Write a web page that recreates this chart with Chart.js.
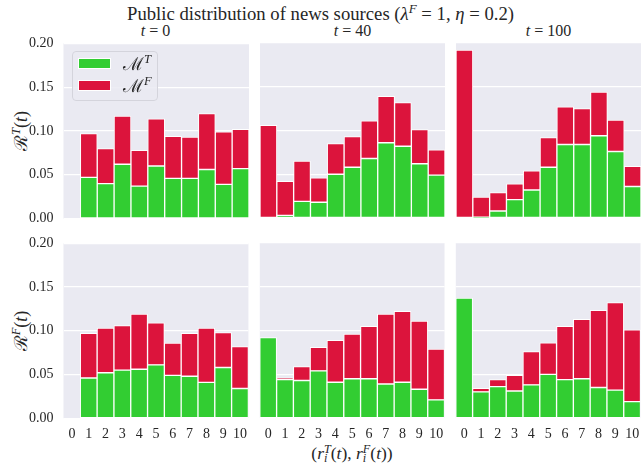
<!DOCTYPE html>
<html>
<head>
<meta charset="utf-8">
<script src="https://cdn.jsdelivr.net/npm/chart.js@4.4.1/dist/chart.umd.min.js"></script>
<style>
  html, body { margin: 0; padding: 0; background: #ffffff; }
  body { width: 641px; height: 463px; position: relative; overflow: hidden;
         font-family: "Liberation Serif", "DejaVu Serif", serif; color: #262626; }
  canvas { position: absolute; }
  .txt { position: absolute; white-space: nowrap; line-height: 1; }
  .title { font-size: 18.7px; left: 0; width: 641px; text-align: center; top: 5px; }
  .sub { font-size: 16px; text-align: center; width: 185px; top: 22.6px; }
  .ylab { font-size: 18px; transform: translate(-50%, -50%) rotate(-90deg); }
  .xlab { font-size: 17.5px; transform: translate(-50%, -50%); }
  sup { font-size: 0.7em; vertical-align: 0.55em; line-height: 0; }
  .ss { display: inline-block; vertical-align: -0.25em; line-height: 0.75; font-size: 0.7em; text-align: left; }
  .ss span { display: block; }
  .legend { position: absolute; left: 72px; top: 51px; width: 86px; height: 50px;
            background: rgba(234,234,242,0.85); border: 1px solid #d4d4dc; border-radius: 4px; box-sizing: border-box; }
  .sw { position: absolute; left: 5px; width: 33px; height: 11px; box-sizing: border-box; border: 1px solid #ffffff; }
  .lt { position: absolute; left: 50px; font-size: 18px; line-height: 1; }
</style>
</head>
<body>
<div class="txt title">Public distribution of news sources (<i>λ</i><sup><i>F</i></sup> = 1, <i>η</i> = 0.2)</div>
<div class="txt sub" style="left:63px"><i>t</i> = 0</div>
<div class="txt sub" style="left:260px"><i>t</i> = 40</div>
<div class="txt sub" style="left:456px"><i>t</i> = 100</div>
<div class="txt ylab" style="left:21px; top:131px">ℛ<sup><i>T</i></sup>(<i>t</i>)</div>
<div class="txt ylab" style="left:21px; top:331px">ℛ<sup><i>F</i></sup>(<i>t</i>)</div>
<div class="txt xlab" style="left:352px; top:454px">(<i>r</i><span class="ss"><span><i>T</i></span><span><i>i</i></span></span>(<i>t</i>), <i>r</i><span class="ss"><span><i>F</i></span><span><i>i</i></span></span>(<i>t</i>))</div>

<canvas id="p00" width="248" height="191"></canvas>
<canvas id="p01" width="185" height="191"></canvas>
<canvas id="p02" width="185" height="191"></canvas>
<canvas id="p10" width="248" height="208"></canvas>
<canvas id="p11" width="185" height="208"></canvas>
<canvas id="p12" width="185" height="208"></canvas>

<div class="legend">
  <div class="sw" style="top:6px; background:#32cd32"></div>
  <div class="lt" style="top:3px">ℳ<sup><i>T</i></sup></div>
  <div class="sw" style="top:28px; background:#dc143c"></div>
  <div class="lt" style="top:25px">ℳ<sup><i>F</i></sup></div>
</div>

<script>
// Bins of (r_i^T(t), r_i^F(t))
const bins = ['0', '1', '2', '3', '4', '5', '6', '7', '8', '9', '10'];
const yTickValues = [0, 0.05, 0.10, 0.15, 0.20];

// Top row: R^T(t), split into M^T and M^F
const rT_MT_t0   = [0, 0.047, 0.040, 0.062, 0.037, 0.060, 0.046, 0.046, 0.056, 0.039, 0.057];
const rT_MF_t0   = [0, 0.050, 0.040, 0.055, 0.041, 0.054, 0.048, 0.047, 0.064, 0.060, 0.045];
const rT_MT_t40  = [0, 0.003, 0.019, 0.018, 0.050, 0.058, 0.068, 0.086, 0.082, 0.062, 0.049];
const rT_MF_t40  = [0.106, 0.039, 0.046, 0.028, 0.035, 0.035, 0.043, 0.053, 0.050, 0.039, 0.029];
const rT_MT_t100 = [0, 0.001, 0.008, 0.021, 0.032, 0.058, 0.084, 0.084, 0.094, 0.076, 0.036];
const rT_MF_t100 = [0.192, 0.023, 0.021, 0.018, 0.022, 0.034, 0.043, 0.041, 0.050, 0.036, 0.023];

// Bottom row: R^F(t), split into M^T and M^F
const rF_MT_t0   = [0, 0.046, 0.052, 0.055, 0.056, 0.061, 0.049, 0.048, 0.041, 0.058, 0.034];
const rF_MF_t0   = [0, 0.051, 0.051, 0.051, 0.063, 0.048, 0.037, 0.049, 0.062, 0.040, 0.048];
const rF_MT_t40  = [0.092, 0.044, 0.043, 0.054, 0.041, 0.045, 0.045, 0.039, 0.041, 0.033, 0.021];
const rF_MF_t40  = [0, 0.002, 0.016, 0.027, 0.048, 0.051, 0.060, 0.080, 0.081, 0.078, 0.058];
const rF_MT_t100 = [0.137, 0.030, 0.036, 0.031, 0.038, 0.050, 0.044, 0.045, 0.035, 0.032, 0.019];
const rF_MF_t100 = [0, 0.004, 0.008, 0.018, 0.038, 0.036, 0.061, 0.068, 0.088, 0.100, 0.082];

const GREEN = '#32cd32';
const RED = '#dc143c';
const PANEL_BG = '#eaeaf2';
const TEXT = '#262626';
const FONT = '"Liberation Serif", "DejaVu Serif", serif';

// Panel grid: plot-area rectangles for each column / row
const colLeft = [63, 260, 456];
const rowTop = [43, 243];
const panelW = 185;
const panelH = 175;

// Paint the seaborn-style panel background behind the bars
const panelBackground = {
  id: 'panelBackground',
  beforeDraw(chart) {
    const a = chart.chartArea;
    const ctx = chart.ctx;
    ctx.save();
    ctx.fillStyle = PANEL_BG;
    ctx.fillRect(a.left, a.top, a.right - a.left, a.bottom - a.top);
    ctx.restore();
  }
};

function makePanel(id, mt, mf, col, row) {
  const showY = col === 0;
  const showX = row === 1;
  const chart = new Chart(document.getElementById(id), {
    type: 'bar',
    data: {
      labels: bins,
      datasets: [
        { label: 'M^T', data: mt, backgroundColor: GREEN, borderColor: '#ffffff', borderWidth: 1,
          barPercentage: 1, categoryPercentage: 1, borderSkipped: false },
        { label: 'M^F', data: mf, backgroundColor: RED, borderColor: '#ffffff', borderWidth: 1,
          barPercentage: 1, categoryPercentage: 1, borderSkipped: false }
      ]
    },
    options: {
      responsive: false,
      maintainAspectRatio: false,
      devicePixelRatio: 1,
      animation: false,
      layout: { padding: { top: 8, bottom: showX ? 0 : 8, left: 0, right: 0 } },
      plugins: { legend: { display: false }, tooltip: { enabled: false }, title: { display: false } },
      scales: {
        x: {
          stacked: true,
          display: showX,
          grid: { display: false, drawTicks: false },
          border: { display: false },
          ticks: { color: TEXT, font: { family: FONT, size: 14 }, padding: 8, maxRotation: 0, autoSkip: false }
        },
        y: {
          stacked: true,
          min: 0,
          max: 0.2,
          afterBuildTicks(scale) { scale.ticks = yTickValues.map(v => ({ value: v })); },
          grid: { color: '#ffffff', lineWidth: 1.3, drawTicks: false },
          border: { display: false },
          ticks: {
            display: showY,
            color: TEXT,
            font: { family: FONT, size: 14 },
            padding: 10,
            callback: v => Number(v).toFixed(2)
          }
        }
      }
    },
    plugins: [panelBackground]
  });

  // Size the canvas so the plot area gets the panel size, then shift it into place
  for (let i = 0; i < 4; i++) {
    const a = chart.chartArea;
    const nw = Math.round(chart.width + panelW - (a.right - a.left));
    const nh = Math.round(chart.height + panelH - (a.bottom - a.top));
    if (nw === chart.width && nh === chart.height) break;
    chart.resize(nw, nh);
  }
  const a = chart.chartArea;
  chart.canvas.style.left = Math.round(colLeft[col] - a.left) + 'px';
  chart.canvas.style.top = Math.round(rowTop[row] - a.top) + 'px';
  return chart;
}

makePanel('p00', rT_MT_t0,   rT_MF_t0,   0, 0);
makePanel('p01', rT_MT_t40,  rT_MF_t40,  1, 0);
makePanel('p02', rT_MT_t100, rT_MF_t100, 2, 0);
makePanel('p10', rF_MT_t0,   rF_MF_t0,   0, 1);
makePanel('p11', rF_MT_t40,  rF_MF_t40,  1, 1);
makePanel('p12', rF_MT_t100, rF_MF_t100, 2, 1);
</script>
</body>
</html>
